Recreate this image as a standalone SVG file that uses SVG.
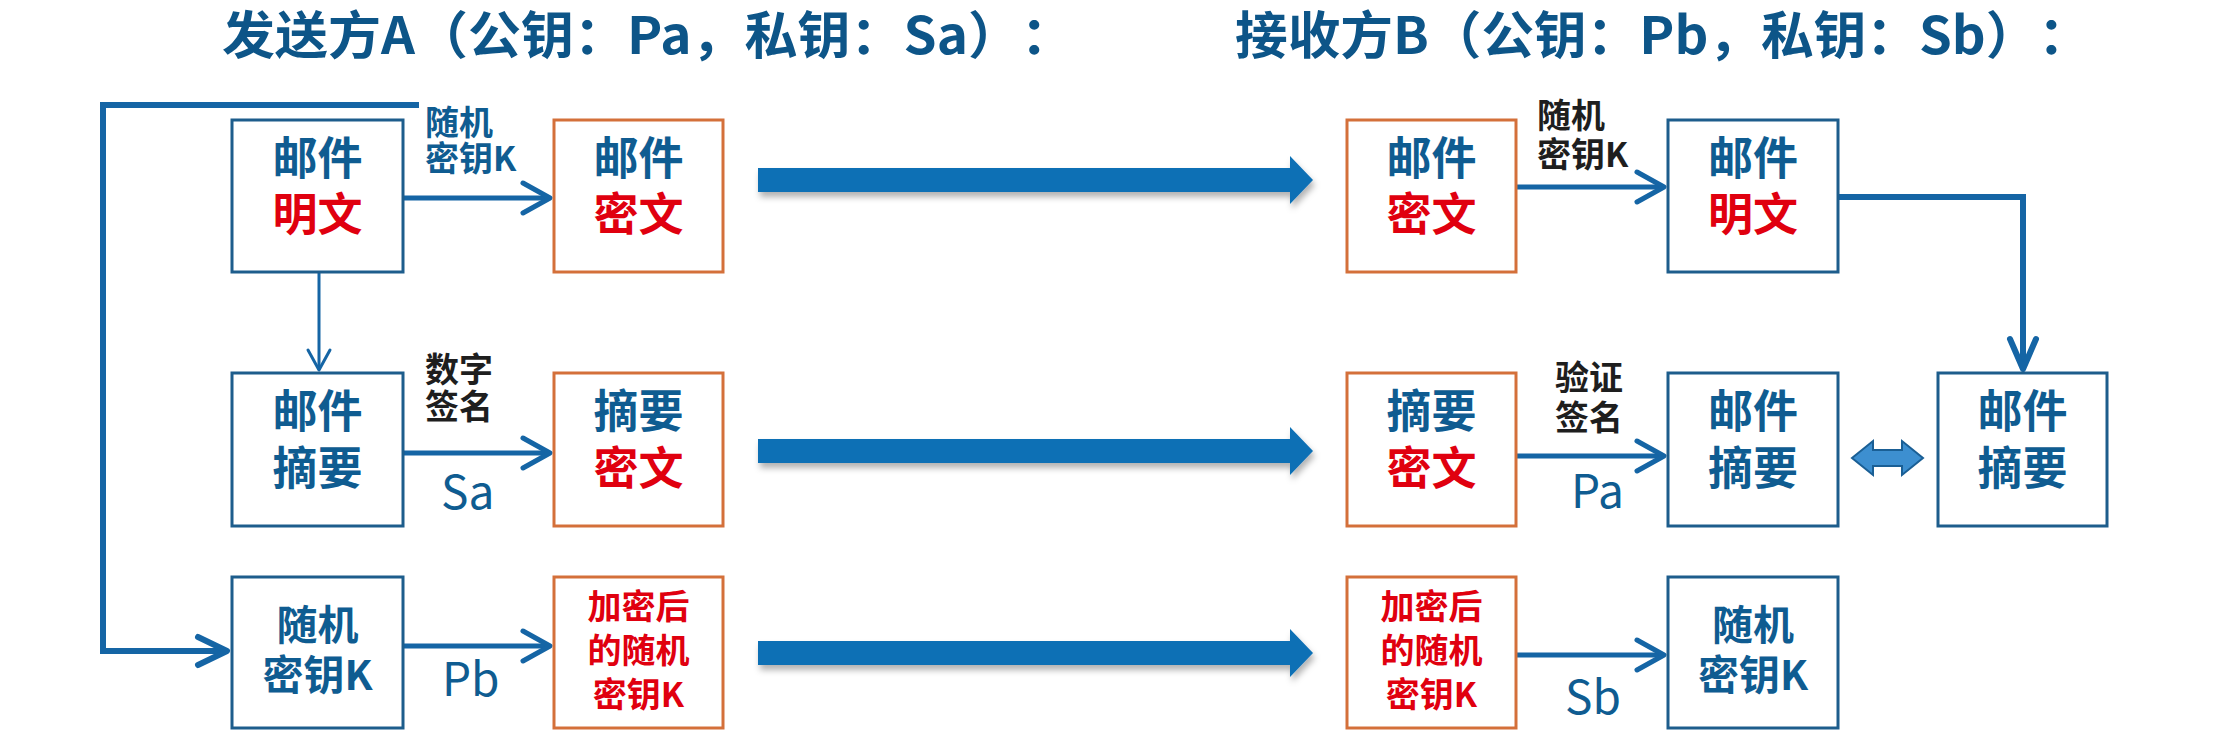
<svg xmlns="http://www.w3.org/2000/svg" width="2222" height="742" viewBox="0 0 2222 742">
<style>
text{font-family:'Noto Sans CJK SC','Noto Sans',sans-serif;text-spacing-trim:space-all}
.title{font-size:51px;font-weight:bold;fill:#0d5588}
.bt{font-size:45px;font-weight:bold;text-anchor:middle}
.b3{font-size:41px;font-weight:bold;text-anchor:middle}
.rt{font-size:34px;font-weight:bold;text-anchor:middle;fill:#e0000f}
.blue{fill:#0f5c91}
.red{fill:#e0000f}
.lbl{font-size:34px;font-weight:bold}
.lblk{fill:#1e1e1e}
.key{font-size:46px;fill:#0f5c91}
.bx{fill:#fff;stroke:#1d5d8c;stroke-width:3}
.ox{fill:#fff;stroke:#d4703a;stroke-width:3}
.cn{fill:none;stroke:#1565a5;stroke-linecap:butt;stroke-linejoin:miter}
.big{fill:#0b6fb5;filter:url(#sh)}
</style>
<defs>
<filter id="sh" x="-5%" y="-50%" width="110%" height="250%">
<feDropShadow dx="2" dy="5" stdDeviation="3" flood-color="#000" flood-opacity="0.3"/>
</filter>
<marker id="chev" markerUnits="userSpaceOnUse" orient="auto" refX="0" refY="0" markerWidth="40" markerHeight="40" overflow="visible">
<path d="M-27,-15 L0,0 L-27,15" fill="none" stroke="#1565a5" stroke-width="5" stroke-linecap="round" stroke-linejoin="round"/>
</marker>
<marker id="chevS" markerUnits="userSpaceOnUse" orient="auto" refX="0" refY="0" markerWidth="30" markerHeight="30" overflow="visible">
<path d="M-20,-11 L0,0 L-20,11" fill="none" stroke="#1565a5" stroke-width="3" stroke-linecap="round" stroke-linejoin="round"/>
</marker>
<marker id="chevL" markerUnits="userSpaceOnUse" orient="auto" refX="0" refY="0" markerWidth="40" markerHeight="40" overflow="visible">
<path d="M-29,-14 L0,0 L-29,14" fill="none" stroke="#1565a5" stroke-width="6" stroke-linecap="round" stroke-linejoin="round"/>
</marker>
<marker id="chevD" markerUnits="userSpaceOnUse" orient="auto" refX="0" refY="0" markerWidth="40" markerHeight="40" overflow="visible">
<path d="M-30,-13 L0,0 L-30,13" fill="none" stroke="#1565a5" stroke-width="6" stroke-linecap="round" stroke-linejoin="round"/>
</marker>
</defs>
<rect width="2222" height="742" fill="#fff"/>

<g id="titles">
<text class="title" x="222" y="54" textLength="852" lengthAdjust="spacingAndGlyphs">发送方A（公钥：Pa，私钥：Sa）：</text>
<text class="title" x="1235" y="54" textLength="856" lengthAdjust="spacingAndGlyphs">接收方B（公钥：Pb，私钥：Sb）：</text>
</g>

<g id="connectors">
<path class="cn" d="M419,105 H103 V651 H227" stroke-width="6" marker-end="url(#chevL)"/>
<path class="cn" d="M403,198 H550" stroke-width="5" marker-end="url(#chev)"/>
<path class="cn" d="M319,272 V370" stroke-width="3" marker-end="url(#chevS)"/>
<path class="cn" d="M403,453 H550" stroke-width="5" marker-end="url(#chev)"/>
<path class="cn" d="M403,646 H550" stroke-width="5" marker-end="url(#chev)"/>
<path class="cn" d="M1516,187 H1664" stroke-width="5" marker-end="url(#chev)"/>
<path class="cn" d="M1838,197 H2023 V369" stroke-width="6" marker-end="url(#chevD)"/>
<path class="cn" d="M1516,456 H1664" stroke-width="5" marker-end="url(#chev)"/>
<path class="cn" d="M1516,655 H1664" stroke-width="5" marker-end="url(#chev)"/>
<polygon class="big" points="758,168 1290,168 1290,156 1313,180 1290,204 1290,192 758,192"/>
<polygon class="big" points="758,439 1290,439 1290,427 1313,451 1290,475 1290,463 758,463"/>
<polygon class="big" points="758,641 1290,641 1290,629 1313,653 1290,677 1290,665 758,665"/>
<polygon points="1852,458 1873,441 1873,450 1902,450 1902,441 1923,458 1902,475 1902,466 1873,466 1873,475" fill="#3d8fd0" stroke="#1a5f95" stroke-width="2"/>
</g>

<g id="labels">
<text class="lbl blue" x="425" y="135">随机</text>
<text class="lbl blue" x="425" y="171">密钥K</text>
<text class="lbl lblk" x="425" y="382">数字</text>
<text class="lbl lblk" x="425" y="419">签名</text>
<text class="key" x="441" y="509">Sa</text>
<text class="key" x="442" y="696">Pb</text>
<text class="lbl lblk" x="1537" y="128">随机</text>
<text class="lbl lblk" x="1537" y="167">密钥K</text>
<text class="lbl lblk" x="1555" y="390">验证</text>
<text class="lbl lblk" x="1555" y="430">签名</text>
<text class="key" x="1571" y="508">Pa</text>
<text class="key" x="1565" y="714">Sb</text>
</g>

<g id="a1">
<rect class="bx" x="232" y="120" width="171" height="152"/>
<text class="bt blue" x="317.5" y="175">邮件</text>
<text class="bt red" x="317.5" y="231">明文</text>
</g>
<g id="a2">
<rect class="ox" x="554" y="120" width="169" height="152"/>
<text class="bt blue" x="638.5" y="175">邮件</text>
<text class="bt red" x="638.5" y="231">密文</text>
</g>
<g id="a3">
<rect class="bx" x="232" y="373" width="171" height="153"/>
<text class="bt blue" x="317.5" y="428">邮件</text>
<text class="bt blue" x="317.5" y="485">摘要</text>
</g>
<g id="a4">
<rect class="ox" x="554" y="373" width="169" height="153"/>
<text class="bt blue" x="638.5" y="428">摘要</text>
<text class="bt red" x="638.5" y="485">密文</text>
</g>
<g id="a5">
<rect class="bx" x="232" y="577" width="171" height="151"/>
<text class="b3 blue" x="317.5" y="640">随机</text>
<text class="b3 blue" x="317.5" y="690">密钥K</text>
</g>
<g id="a6">
<rect class="ox" x="554" y="577" width="169" height="151"/>
<text class="rt" x="638.5" y="619">加密后</text>
<text class="rt" x="638.5" y="663">的随机</text>
<text class="rt" x="638.5" y="707">密钥K</text>
</g>

<g id="b1">
<rect class="ox" x="1347" y="120" width="169" height="152"/>
<text class="bt blue" x="1431.5" y="175">邮件</text>
<text class="bt red" x="1431.5" y="231">密文</text>
</g>
<g id="b2">
<rect class="bx" x="1668" y="120" width="170" height="152"/>
<text class="bt blue" x="1753" y="175">邮件</text>
<text class="bt red" x="1753" y="231">明文</text>
</g>
<g id="b3">
<rect class="ox" x="1347" y="373" width="169" height="153"/>
<text class="bt blue" x="1431.5" y="428">摘要</text>
<text class="bt red" x="1431.5" y="485">密文</text>
</g>
<g id="b4">
<rect class="bx" x="1668" y="373" width="170" height="153"/>
<text class="bt blue" x="1753" y="428">邮件</text>
<text class="bt blue" x="1753" y="485">摘要</text>
</g>
<g id="b5">
<rect class="bx" x="1938" y="373" width="169" height="153"/>
<text class="bt blue" x="2022.5" y="428">邮件</text>
<text class="bt blue" x="2022.5" y="485">摘要</text>
</g>
<g id="b6">
<rect class="ox" x="1347" y="577" width="169" height="151"/>
<text class="rt" x="1431.5" y="619">加密后</text>
<text class="rt" x="1431.5" y="663">的随机</text>
<text class="rt" x="1431.5" y="707">密钥K</text>
</g>
<g id="b7">
<rect class="bx" x="1668" y="577" width="170" height="151"/>
<text class="b3 blue" x="1753" y="640">随机</text>
<text class="b3 blue" x="1753" y="690">密钥K</text>
</g>
</svg>
